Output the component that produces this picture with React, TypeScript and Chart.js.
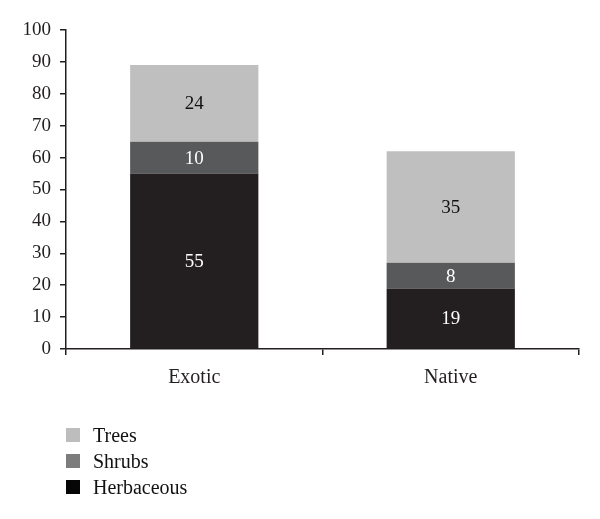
import React, { useEffect, useRef } from "react";
import { Chart, registerables } from "chart.js";

Chart.register(...registerables);

const categories = ["Exotic", "Native"];
const herbaceous = [55, 19];
const shrubs = [10, 8];
const trees = [24, 35];
const seriesNames = ["Herbaceous", "Shrubs", "Trees"];
const legendOrder = ["Trees", "Shrubs", "Herbaceous"];

const barColors: Record<string, string> = {
  Herbaceous: "#231f20",
  Shrubs: "#58595b",
  Trees: "#bfbfbf",
};
const legendColors: Record<string, string> = {
  Herbaceous: "#060606",
  Shrubs: "#7c7c7c",
  Trees: "#bdbdbd",
};
const labelColors: Record<string, string> = {
  Herbaceous: "#ffffff",
  Shrubs: "#ffffff",
  Trees: "#111111",
};

const FONT = "'Liberation Serif', 'DejaVu Serif', serif";

const valueLabels = {
  id: "valueLabels",
  afterDatasetsDraw(chart: any) {
    const ctx = chart.ctx;
    ctx.save();
    ctx.font = `19px ${FONT}`;
    ctx.textAlign = "center";
    ctx.textBaseline = "middle";
    chart.data.datasets.forEach((ds: any, i: number) => {
      const meta = chart.getDatasetMeta(i);
      meta.data.forEach((el: any, j: number) => {
        const v = ds.data[j];
        ctx.fillStyle = labelColors[ds.label];
        ctx.fillText(String(v), el.x, (el.y + el.base) / 2 + 1);
      });
    });
    ctx.restore();
  },
};

export default function App() {
  const ref = useRef<HTMLCanvasElement>(null);
  useEffect(() => {
    const seriesData: Record<string, number[]> = {
      Herbaceous: herbaceous,
      Shrubs: shrubs,
      Trees: trees,
    };
    const chart = new Chart(ref.current!, {
      type: "bar",
      data: {
        labels: categories,
        datasets: seriesNames.map((name) => ({
          label: name,
          data: seriesData[name],
          backgroundColor: barColors[name],
          borderWidth: 0,
          categoryPercentage: 1,
          barPercentage: 0.5,
        })),
      },
      options: {
        animation: false,
        responsive: false,
        maintainAspectRatio: false,
        layout: { padding: { left: 0, right: 21, top: 30, bottom: 0 } },
        plugins: {
          legend: { display: false },
          tooltip: { enabled: false },
        },
        scales: {
          x: {
            stacked: true,
            afterFit: (scale: any) => {
              scale.height = 170;
            },
            grid: {
              offset: true,
              drawOnChartArea: false,
              drawTicks: true,
              tickLength: 6,
              color: "#231f20",
              lineWidth: 1.5,
            },
            border: { display: true, color: "#231f20", width: 1.5 },
            ticks: {
              color: "#231f20",
              font: { family: FONT, size: 20 },
              padding: 11,
            },
          },
          y: {
            stacked: true,
            min: 0,
            max: 100,
            afterFit: (scale: any) => {
              scale.width = 66;
            },
            grid: {
              drawOnChartArea: false,
              drawTicks: true,
              tickLength: 6,
              color: "#231f20",
              lineWidth: 1.5,
            },
            border: { display: true, color: "#231f20", width: 1.5 },
            ticks: {
              stepSize: 10,
              color: "#231f20",
              font: { family: FONT, size: 19 },
              padding: 9,
            },
          },
        },
      },
      plugins: [valueLabels],
    });
    return () => chart.destroy();
  }, []);

  return (
    <div style={{ position: "absolute", left: 0, top: 0, width: 600, height: 519, background: "#fff" }}>
      <canvas ref={ref} width={600} height={519} style={{ position: "absolute", left: 0, top: 0 }} />
      {legendOrder.map((name, i) => (
        <div
          key={name}
          style={{
            position: "absolute",
            left: 66,
            top: 424 + i * 26,
            height: 22,
            display: "flex",
            alignItems: "center",
            fontFamily: FONT,
            fontSize: 20,
            color: "#111",
          }}
        >
          <span
            style={{
              display: "inline-block",
              width: 14,
              height: 14,
              background: legendColors[name],
              marginRight: 13,
            }}
          />
          <span>{name}</span>
        </div>
      ))}
    </div>
  );
}
